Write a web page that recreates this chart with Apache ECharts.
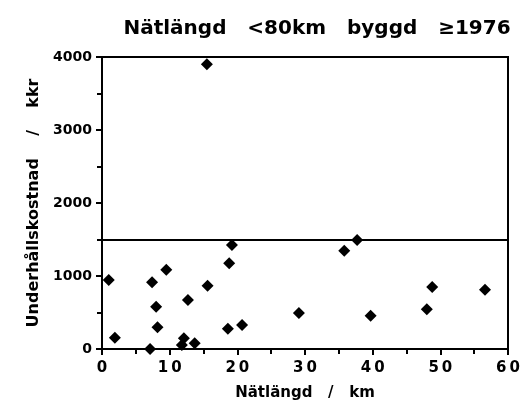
<!DOCTYPE html>
<html>
<head>
<meta charset="utf-8">
<script src="https://cdn.jsdelivr.net/npm/echarts@6/dist/echarts.min.js"></script>
<style>
  html, body { margin: 0; padding: 0; background: #fff; }
  #chart { width: 520px; height: 406px; }
</style>
</head>
<body>
<div id="chart"></div>
<script>
// nätlängd (km) and underhållskostnad (kkr)
const natlangd = [1.0, 1.9, 7.1, 7.4, 8.0, 8.2, 9.5, 12.1, 11.8, 13.7, 12.7, 15.6, 18.6, 18.8, 19.2, 20.7, 29.1, 35.8, 37.7, 39.7, 48.0, 48.8, 56.6, 15.5];
const kostnad  = [945, 155, 0, 913, 580, 297, 1087, 146, 55, 78, 671, 868, 279, 1173, 1425, 329, 493, 1347, 1493, 456, 543, 849, 812, 3900];
const xTicks = [0, 10, 20, 30, 40, 50, 60];
const yTicks = [0, 1000, 2000, 3000, 4000];
const gransvarde = 1500;

const points = natlangd.map((x, i) => [x, kostnad[i]]);

const chart = echarts.init(document.getElementById('chart'));
const font = 'DejaVu Sans, Verdana, sans-serif';
chart.setOption({
  animation: false,
  title: {
    text: 'Nätlängd   <80km   byggd   ≥1976',
    left: 312,
    textAlign: 'center',
    top: 14,
    textStyle: { fontFamily: font, fontSize: 20, fontWeight: 'bold', color: '#000' }
  },
  grid: {
    left: 102, right: 12, top: 57, bottom: 57,
    outerBoundsMode: 'none',
    show: true, borderColor: '#000', borderWidth: 2
  },
  xAxis: {
    type: 'value',
    min: xTicks[0], max: xTicks[xTicks.length - 1], interval: 10,
    name: 'Nätlängd   /   km',
    nameLocation: 'middle', nameGap: 37,
    nameTextStyle: { fontFamily: font, fontSize: 15, fontWeight: 'bold', color: '#000' },
    axisLine: { lineStyle: { color: '#000', width: 2 } },
    axisTick: { inside: false, length: 6, lineStyle: { color: '#000', width: 2 } },
    minorTick: { show: true, splitNumber: 2, length: 5, lineStyle: { color: '#000', width: 2 } },
    axisLabel: {
      fontFamily: font, fontSize: 15, fontWeight: 'bold', color: '#000', margin: 12,
      formatter: v => String(v).split('').join('\u2009')
    },
    splitLine: { show: false }
  },
  yAxis: {
    type: 'value',
    min: yTicks[0], max: yTicks[yTicks.length - 1], interval: 1000,
    name: 'Underhållskostnad    /    kkr',
    nameLocation: 'middle', nameGap: 60,
    nameTextStyle: { fontFamily: font, fontSize: 16, fontWeight: 'bold', color: '#000' },
    axisLine: { lineStyle: { color: '#000', width: 2 } },
    axisTick: { inside: false, length: 6, lineStyle: { color: '#000', width: 2 } },
    minorTick: { show: true, splitNumber: 2, length: 5, lineStyle: { color: '#000', width: 2 } },
    axisLabel: {
      fontFamily: font, fontSize: 14, fontWeight: 'bold', color: '#000', margin: 10,
      formatter: v => String(v)
    },
    splitLine: { show: false }
  },
  series: [{
    type: 'scatter',
    data: points,
    symbol: 'diamond',
    symbolSize: 12,
    itemStyle: { color: '#000', opacity: 1 },
    markLine: {
      silent: true,
      symbol: 'none',
      label: { show: false },
      lineStyle: { color: '#000', width: 2, type: 'solid' },
      data: [{ yAxis: gransvarde }]
    }
  }]
});
</script>
</body>
</html>
